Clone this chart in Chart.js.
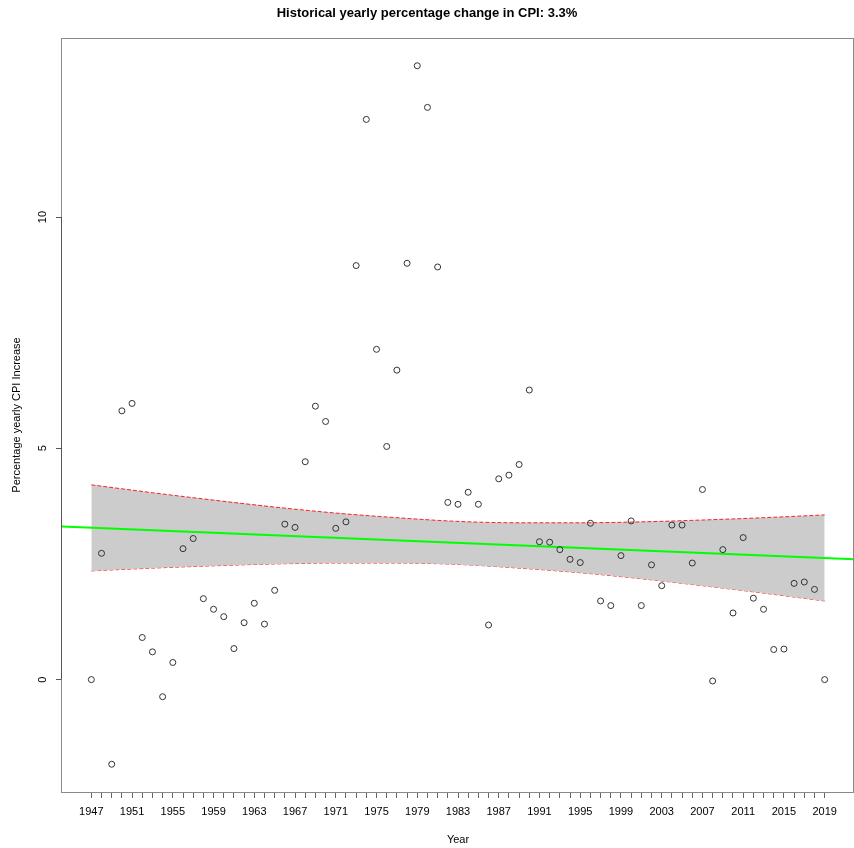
<!DOCTYPE html>
<html lang="en">
<head>
  <meta charset="UTF-8" />
  <title>Historical yearly percentage change in CPI</title>
  <style>
    body {
      margin: 0;
      padding: 0;
      background: #ffffff;
    }
    canvas {
      display: block;
    }
  </style>
  <script src="https://cdn.jsdelivr.net/npm/chart.js"></script>
</head>
<body>
  <canvas id="cpiChart" width="854" height="848"></canvas>

  <script>
    const years = [
      1947, 1948, 1949, 1950, 1951, 1952, 1953, 1954, 1955, 1956,
      1957, 1958, 1959, 1960, 1961, 1962, 1963, 1964, 1965, 1966,
      1967, 1968, 1969, 1970, 1971, 1972, 1973, 1974, 1975, 1976,
      1977, 1978, 1979, 1980, 1981, 1982, 1983, 1984, 1985, 1986,
      1987, 1988, 1989, 1990, 1991, 1992, 1993, 1994, 1995, 1996,
      1997, 1998, 1999, 2000, 2001, 2002, 2003, 2004, 2005, 2006,
      2007, 2008, 2009, 2010, 2011, 2012, 2013, 2014, 2015, 2016,
      2017, 2018, 2019
    ];

    const cpiChange = [
      0.00, 2.73, -1.83, 5.81, 5.97, 0.91, 0.60, -0.37, 0.37, 2.83,
      3.05, 1.75, 1.52, 1.36, 0.67, 1.23, 1.65, 1.20, 1.93, 3.36,
      3.29, 4.71, 5.91, 5.58, 3.27, 3.41, 8.95, 12.11, 7.14, 5.04,
      6.69, 9.00, 13.27, 12.37, 8.92, 3.83, 3.79, 4.05, 3.79, 1.18,
      4.34, 4.42, 4.65, 6.26, 2.98, 2.97, 2.81, 2.60, 2.53, 3.38,
      1.70, 1.60, 2.68, 3.43, 1.60, 2.48, 2.03, 3.34, 3.34, 2.52,
      4.11, -0.03, 2.81, 1.44, 3.07, 1.76, 1.52, 0.65, 0.66, 2.08,
      2.11, 1.95, 0.00
    ];

    // confidence band, read at every 6th year
    const bandYears = [1947, 1953, 1959, 1965, 1971, 1977, 1983, 1989, 1995, 2001, 2007, 2013, 2019];
    const bandUpper = [4.21, 4.04, 3.88, 3.73, 3.60, 3.50, 3.42, 3.39, 3.39, 3.41, 3.45, 3.50, 3.56];
    const bandLower = [2.35, 2.41, 2.46, 2.50, 2.52, 2.52, 2.49, 2.41, 2.31, 2.18, 2.03, 1.87, 1.70];

    // fitted line, runs across the whole plot
    const trendYears = [1944.12, 2021.88];
    const trendValues = [3.31, 2.60];

    const xTickLabels = ["1947", "1951", "1955", "1959", "1963", "1967", "1971", "1975", "1979",
      "1983", "1987", "1991", "1995", "1999", "2003", "2007", "2011", "2015", "2019"];
    const yTickValues = [0, 5, 10];

    const toPoints = (xs, ys) => xs.map((x, i) => ({ x: x, y: ys[i] }));

    const fontFamily = "'Liberation Sans', Arial, Helvetica, sans-serif";

    // box round the plot and the rotated y labels, R style
    const frame = {
      id: "frame",
      afterDatasetsDraw(chart) {
        const { ctx, chartArea: a, scales } = chart;
        const yScale = scales.y;
        ctx.save();
        ctx.strokeStyle = "#8a8a8a";
        ctx.lineWidth = 1;
        ctx.strokeRect(Math.round(a.left) - 0.5, Math.round(a.top) + 0.5,
          Math.round(a.right - a.left), Math.round(a.bottom - a.top));

        ctx.strokeStyle = "#555";
        ctx.beginPath();
        ctx.moveTo(Math.round(a.left) - 0.5, yScale.getPixelForValue(yTickValues[0]));
        ctx.lineTo(Math.round(a.left) - 0.5, yScale.getPixelForValue(yTickValues[yTickValues.length - 1]));
        ctx.stroke();

        ctx.fillStyle = "#000";
        ctx.font = "11px " + fontFamily;
        ctx.textAlign = "center";
        ctx.textBaseline = "middle";
        yTickValues.forEach(v => {
          ctx.save();
          ctx.translate(43, yScale.getPixelForValue(v));
          ctx.rotate(-Math.PI / 2);
          ctx.fillText(String(v), 0, 0);
          ctx.restore();
        });
        ctx.restore();
      }
    };

    const ctx = document.getElementById("cpiChart").getContext("2d");

    new Chart(ctx, {
      type: "scatter",
      data: {
        datasets: [
          {
            label: "CPI change",
            data: toPoints(years, cpiChange),
            pointStyle: "circle",
            pointRadius: 3,
            borderColor: "#333",
            borderWidth: 1,
            backgroundColor: "rgba(0,0,0,0)",
            order: 0
          },
          {
            label: "Fit",
            data: toPoints(trendYears, trendValues),
            showLine: true,
            pointRadius: 0,
            borderColor: "#00ff00",
            borderWidth: 2,
            order: 1
          },
          {
            label: "Upper",
            data: toPoints(bandYears, bandUpper),
            showLine: true,
            pointRadius: 0,
            borderColor: "rgba(255,0,0,0.85)",
            borderWidth: 1,
            borderDash: [4, 2],
            cubicInterpolationMode: "monotone",
            backgroundColor: "#cccccc",
            fill: "+1",
            order: 2
          },
          {
            label: "Lower",
            data: toPoints(bandYears, bandLower),
            showLine: true,
            pointRadius: 0,
            borderColor: "rgba(255,0,0,0.85)",
            borderWidth: 1,
            borderDash: [4, 2],
            cubicInterpolationMode: "monotone",
            order: 3
          }
        ]
      },
      options: {
        responsive: false,
        animation: false,
        layout: {
          autoPadding: false,
          padding: { top: 0, left: 0, right: 0, bottom: 0 }
        },
        plugins: {
          legend: { display: false },
          tooltip: { enabled: false },
          title: {
            display: true,
            text: "Historical yearly percentage change in CPI: 3.3%",
            color: "#000",
            font: { family: fontFamily, size: 13, weight: "bold" },
            padding: { top: 6, bottom: 16.4 }
          }
        },
        scales: {
          x: {
            type: "linear",
            min: 1944.12,
            max: 2021.88,
            afterBuildTicks: scale => {
              scale.ticks = years.map(v => ({ value: v }));
            },
            afterFit: scale => {
              scale.height = 56;
            },
            grid: {
              drawOnChartArea: false,
              drawTicks: true,
              tickLength: 6,
              tickColor: "#666"
            },
            border: { display: false },
            ticks: {
              autoSkip: false,
              maxRotation: 0,
              minRotation: 0,
              padding: 7,
              color: "#000",
              font: { family: fontFamily, size: 11 },
              callback: value => xTickLabels.includes(String(value)) ? String(value) : ""
            },
            title: {
              display: true,
              text: "Year",
              color: "#000",
              font: { family: fontFamily, size: 11 },
              padding: { top: 0, bottom: 1 }
            }
          },
          y: {
            type: "linear",
            min: -2.43,
            max: 13.87,
            afterBuildTicks: scale => {
              scale.ticks = yTickValues.map(v => ({ value: v }));
            },
            afterFit: scale => {
              scale.width = 62;
            },
            grid: {
              drawOnChartArea: false,
              drawTicks: true,
              tickLength: 6,
              tickColor: "#555"
            },
            border: { display: false },
            ticks: { display: false },
            title: {
              display: true,
              text: "Percentage yearly CPI Increase",
              color: "#000",
              font: { family: fontFamily, size: 11 },
              padding: { top: 10, bottom: 0 }
            }
          }
        }
      },
      plugins: [frame]
    });
  </script>
</body>
</html>
